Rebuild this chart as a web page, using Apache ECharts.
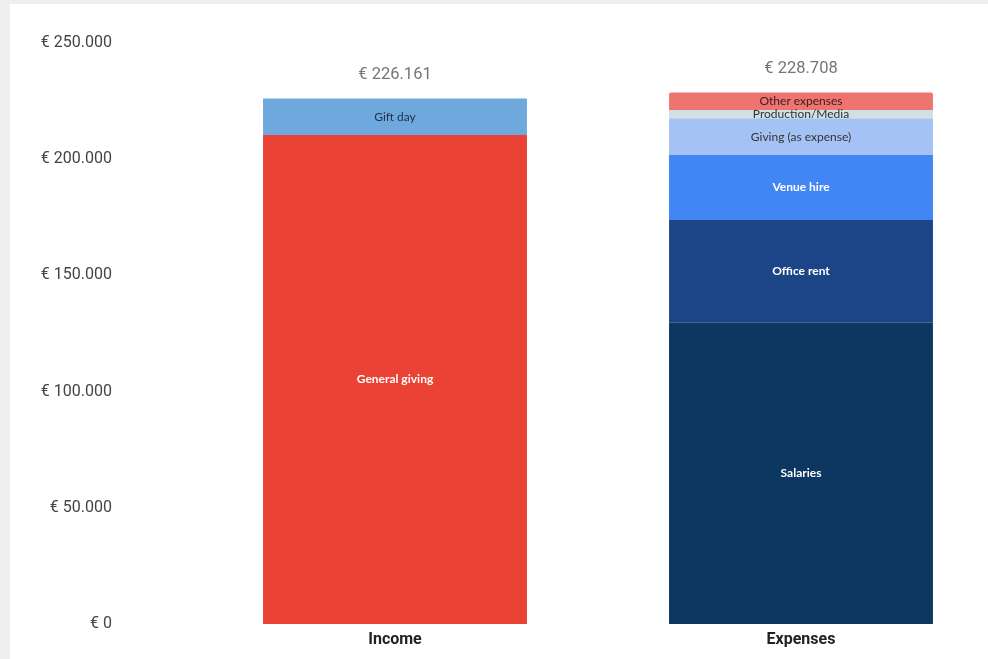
<!DOCTYPE html>
<html>
<head>
<meta charset="utf-8">
<script src="https://cdn.jsdelivr.net/npm/echarts@6/dist/echarts.min.js"></script>
<style>
html,body{margin:0;padding:0;background:#eeeeee;width:988px;height:659px;overflow:hidden;}
#card{position:absolute;left:10px;top:4px;width:978px;height:655px;background:#ffffff;overflow:hidden;}
#chart{position:absolute;left:0;top:0;width:1010px;height:655px;}
</style>
</head>
<body>
<div id="card"><div id="chart"></div></div>
<script>
var categories = ['Income', 'Expenses'];
var totals = [226161, 228708];
var yTicks = [0, 50000, 100000, 150000, 200000, 250000];

var incomeNames = ['General giving', 'Gift day'];
var incomeValues = [210400, 15761];

var expenseNames = ['Salaries', 'Office rent', 'Venue hire', 'Giving (as expense)', 'Production/Media', 'Other expenses'];
var expenseValues = [129600, 44200, 28000, 15800, 3600, 7508];

var colors = {
  'General giving': '#ea4335',
  'Gift day': '#6fa8dc',
  'Salaries': '#0b3760',
  'Office rent': '#1c4587',
  'Venue hire': '#4285f4',
  'Giving (as expense)': '#a4c2f4',
  'Production/Media': '#d0e0e3',
  'Other expenses': '#ef7470'
};
var labelColors = {
  'General giving': '#ffffff',
  'Gift day': '#1f2f4a',
  'Salaries': '#ffffff',
  'Office rent': '#ffffff',
  'Venue hire': '#ffffff',
  'Giving (as expense)': '#333333',
  'Production/Media': '#333333',
  'Other expenses': '#3a2020'
};

function fmtEuro(v) {
  var s = String(Math.round(v)).replace(/\B(?=(\d{3})+(?!\d))/g, '.');
  return '€ ' + s;
}

var series = [];
function addSeg(name, value, idx, isTop) {
  var data = ['-', '-'];
  data[idx] = value;
  var white = labelColors[name] === '#ffffff';
  series.push({
    name: name,
    type: 'bar',
    stack: 'total',
    barWidth: '65%',
    data: data,
    itemStyle: { color: colors[name], borderRadius: isTop ? [2, 2, 0, 0] : 0 },
    label: {
      show: true,
      position: 'inside',
      formatter: name,
      color: labelColors[name],
      fontFamily: 'Lato',
      fontSize: 12,
      fontWeight: white ? 'bold' : 'normal'
    },
    emphasis: { disabled: true }
  });
}
incomeNames.forEach(function (n, i) { addSeg(n, incomeValues[i], 0, false); });
expenseNames.forEach(function (n, i) { addSeg(n, expenseValues[i], 1, i === expenseNames.length - 1); });

series.push({
  name: 'total',
  type: 'bar',
  stack: 'total',
  data: [0, 0],
  itemStyle: { color: 'transparent' },
  label: {
    show: true,
    position: 'top',
    distance: 15,
    formatter: function (p) { return fmtEuro(totals[p.dataIndex]); },
    color: '#757575',
    fontFamily: 'Roboto',
    fontSize: 16.5
  },
  emphasis: { disabled: true }
});

var chart = echarts.init(document.getElementById('chart'));
chart.setOption({
  animation: false,
  grid: { left: 182, right: 16, top: 39, bottom: 35 },
  xAxis: {
    type: 'category',
    data: categories,
    axisLine: { show: false },
    axisTick: { show: false },
    axisLabel: { color: '#222222', fontFamily: 'Roboto', fontWeight: 'bold', fontSize: 16, margin: 8 }
  },
  yAxis: {
    type: 'value',
    min: yTicks[0],
    max: yTicks[yTicks.length - 1],
    interval: yTicks[1] - yTicks[0],
    splitLine: { show: false },
    axisLine: { show: false },
    axisTick: { show: false },
    axisLabel: { color: '#444444', fontFamily: 'Roboto', fontSize: 16, margin: 80, formatter: fmtEuro }
  },
  series: series
});
</script>
</body>
</html>
